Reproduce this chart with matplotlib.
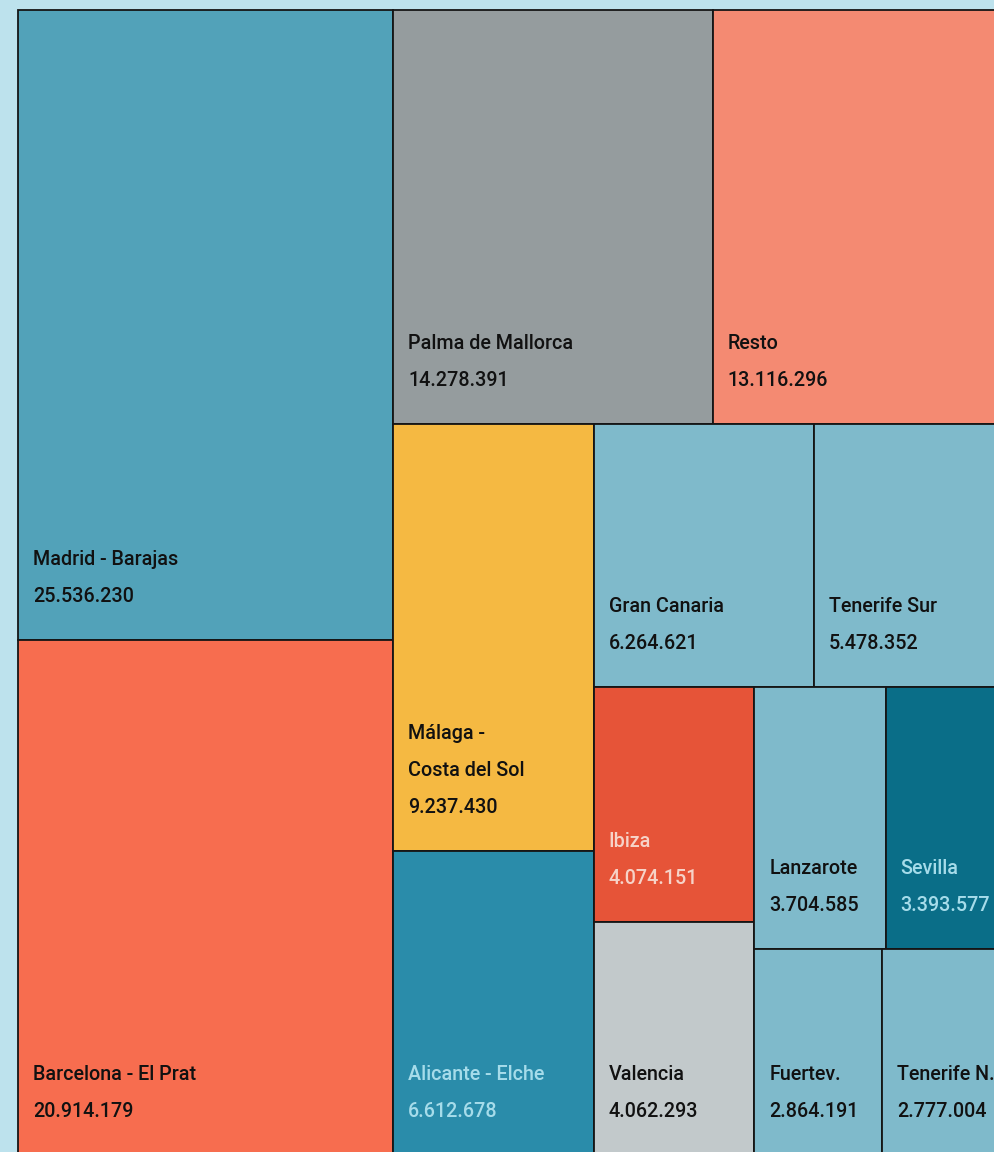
import matplotlib
matplotlib.use("Agg")
from matplotlib import pyplot as plt
from matplotlib.patches import Rectangle

# passengers per airport
names = ["Madrid - Barajas", "Barcelona - El Prat", "Palma de Mallorca", "Resto",
         "Málaga -\nCosta del Sol", "Alicante - Elche", "Gran Canaria", "Tenerife Sur",
         "Ibiza", "Valencia", "Lanzarote", "Sevilla", "Fuertev.", "Tenerife N."]
values = [25536230, 20914179, 14278391, 13116296, 9237430, 6612678, 6264621,
          5478352, 4074151, 4062293, 3704585, 3393577, 2864191, 2777004]
fills = ["#52a2b9", "#f76d4f", "#959c9e", "#f48a72", "#f5b942", "#2a8caa", "#7fbacb",
         "#7fbacb", "#e65438", "#c2c9cb", "#7fbacb", "#0a6e88", "#7fbacb", "#7fbacb"]
text_colors = ["#111111", "#111111", "#111111", "#111111", "#111111", "#a6dcea", "#111111",
               "#111111", "#f6d3c8", "#111111", "#111111", "#a6dcea", "#111111", "#111111"]


def strip(sizes, x, y, dx, dy):
    total = sum(sizes)
    out = []
    if dx >= dy:
        w = total / dy
        cy = y
        for s in sizes:
            out.append((x, cy, w, s / w))
            cy += s / w
    else:
        h = total / dx
        cx = x
        for s in sizes:
            out.append((cx, y, s / h, h))
            cx += s / h
    return out


def leftover(sizes, x, y, dx, dy):
    total = sum(sizes)
    if dx >= dy:
        w = total / dy
        return x + w, y, dx - w, dy
    h = total / dx
    return x, y + h, dx, dy - h


def worst(sizes, x, y, dx, dy):
    return max(max(w / h, h / w) for _, _, w, h in strip(sizes, x, y, dx, dy))


def squarify(sizes, x, y, dx, dy):
    if not sizes:
        return []
    i = 1
    while i < len(sizes) and worst(sizes[:i], x, y, dx, dy) >= worst(sizes[:i + 1], x, y, dx, dy):
        i += 1
    cur = sizes[:i]
    return strip(cur, x, y, dx, dy) + squarify(sizes[i:], *leftover(cur, x, y, dx, dy))


# layout in a 1.2 x 1 box, then stretched onto the page (runs off right/bottom edge)
LW, LH = 1.2, 1.0
tot = sum(values)
sizes = [v / tot * LW * LH for v in values]
rects = squarify(sizes, 0, 0, LW, LH)

X0, Y0, W, H = 18, 10, 988, 1146

fig = plt.figure(figsize=(9.94, 11.52), dpi=100)
fig.patch.set_facecolor("#bde2ed")
ax = fig.add_axes([0, 0, 1, 1])
ax.set_xlim(0, 994)
ax.set_ylim(1152, 0)
ax.set_axis_off()

for (x, y, w, h), name, v, fc, tc in zip(rects, names, values, fills, text_colors):
    px, py = X0 + x / LW * W, Y0 + y / LH * H
    pw, ph = w / LW * W, h / LH * H
    ax.add_patch(Rectangle((px, py), pw, ph, facecolor=fc, edgecolor="#151515", linewidth=1.3))
    lines = name.split("\n") + [f"{v:,}".replace(",", ".")]
    bottom = min(py + ph, 1155)
    for k, line in enumerate(reversed(lines)):
        ax.text(px + 15, bottom - 38 - 37 * k, line, color=tc, fontsize=14.2,
                family=["Roboto", "DejaVu Sans"], fontweight="medium",
                va="baseline", ha="left")

plt.savefig("out.png", dpi=100, facecolor=fig.get_facecolor())
plt.close(fig)
